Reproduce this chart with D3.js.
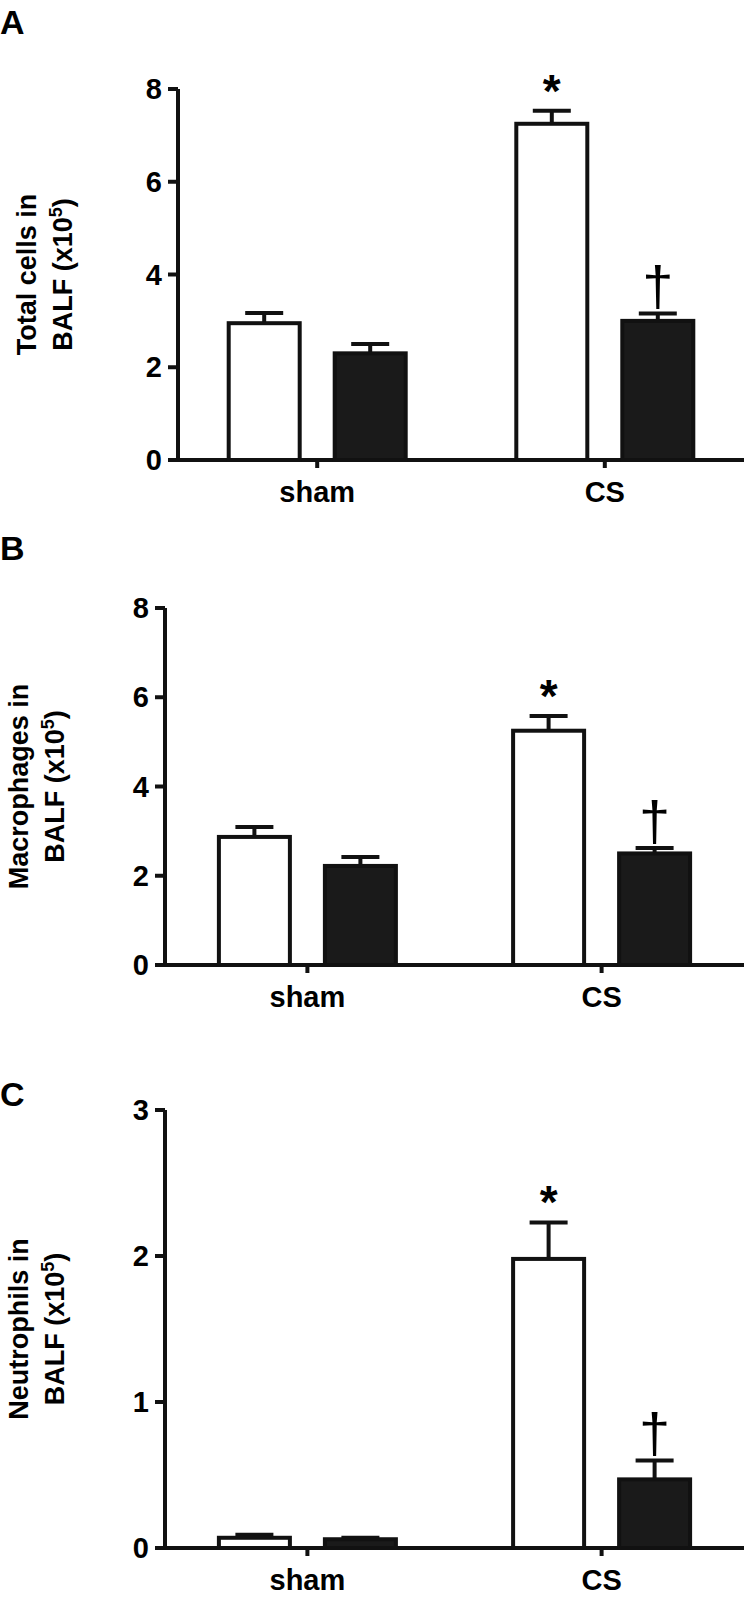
<!DOCTYPE html>
<html><head><meta charset="utf-8">
<script src="https://cdn.jsdelivr.net/npm/d3@7"></script>
<style>body{margin:0;background:#fff}text{font-family:Arial,"Liberation Sans",sans-serif;font-weight:bold}</style>
</head><body><div id="sandbox"></div>
<script>
// data
var groups = ['sham', 'CS'];
var totalMean = [2.95, 7.25], totalBlack = [2.3, 3.0];
var totalErrW = [0.22, 0.28], totalErrB = [0.2, 0.16];
var macMean = [2.87, 5.25], macBlack = [2.22, 2.5];
var macErrW = [0.22, 0.33], macErrB = [0.2, 0.12];
var neuMean = [0.07, 1.98], neuBlack = [0.06, 0.47];
var neuErrW = [0.02, 0.25], neuErrB = [0.01, 0.13];
var panels = [
  {letter: 'A', lines: ['Total cells in', 'BALF (x10'], ax: 178, y0: 460, top: 89, max: 8, ticks: [0, 2, 4, 6, 8], w: totalMean, b: totalBlack, ew: totalErrW, eb: totalErrB, ly: 8, tx: 52},
  {letter: 'B', lines: ['Macrophages in', 'BALF (x10'], ax: 165, y0: 965, top: 608, max: 8, ticks: [0, 2, 4, 6, 8], w: macMean, b: macBlack, ew: macErrW, eb: macErrB, ly: 534, tx: 44},
  {letter: 'C', lines: ['Neutrophils in', 'BALF (x10'], ax: 165, y0: 1548, top: 1110, max: 3, ticks: [0, 1, 2, 3], w: neuMean, b: neuBlack, ew: neuErrW, eb: neuErrB, ly: 1080, tx: 44}
];

var svg = d3.select('#sandbox').append('svg').attr('width', 750).attr('height', 1598);
var right = 744, bw = 75, gap = 31;

panels.forEach(function(p) {
  var g = svg.append('g');
  var y = d3.scaleLinear().domain([0, p.max]).range([p.y0, p.top]);
  var x = d3.scalePoint().domain(groups).range([p.ax, right]).padding(0.484);

  g.append('text').attr('x', 0).attr('y', p.ly + 26).style('font-size', '34px').text(p.letter);

  // y axis
  g.append('line').attr('x1', p.ax).attr('x2', p.ax).attr('y1', y(p.max)).attr('y2', p.y0)
    .attr('stroke', '#111').attr('stroke-width', 4);
  p.ticks.forEach(function(t) {
    g.append('line').attr('x1', p.ax - 10).attr('x2', p.ax).attr('y1', y(t)).attr('y2', y(t))
      .attr('stroke', '#111').attr('stroke-width', 4);
    g.append('text').attr('x', p.ax - 16).attr('y', y(t) + 10).attr('text-anchor', 'end')
      .style('font-size', '29px').text(t);
  });
  // x axis
  g.append('line').attr('x1', p.ax).attr('x2', right).attr('y1', p.y0).attr('y2', p.y0)
    .attr('stroke', '#111').attr('stroke-width', 4);
  groups.forEach(function(c) {
    g.append('line').attr('x1', x(c)).attr('x2', x(c)).attr('y1', p.y0).attr('y2', p.y0 + 8)
      .attr('stroke', '#111').attr('stroke-width', 4);
    g.append('text').attr('x', x(c)).attr('y', p.y0 + 42).attr('text-anchor', 'middle')
      .style('font-size', '29px').text(c);
  });

  // y title
  var mid = (p.y0 + y(p.max)) / 2;
  var t = g.append('text').attr('transform', 'translate(' + p.tx + ',' + mid + ') rotate(-90)')
    .attr('text-anchor', 'middle').style('font-size', '27px');
  t.append('tspan').attr('x', 0).attr('dy', -16).text(p.lines[0]);
  t.append('tspan').attr('x', 0).attr('dy', 36).text(p.lines[1]);
  t.append('tspan').attr('dy', -10).style('font-size', '18px').text('5');
  t.append('tspan').attr('dy', 10).text(')');

  function bars(vals, errs, off, fill) {
    groups.forEach(function(c, i) {
      var x0 = x(c) + off;
      g.append('line').attr('x1', x0 + bw / 2).attr('x2', x0 + bw / 2)
        .attr('y1', y(vals[i])).attr('y2', y(vals[i] + errs[i])).attr('stroke', '#111').attr('stroke-width', 4);
      g.append('line').attr('x1', x0 + bw / 2 - 19).attr('x2', x0 + bw / 2 + 19)
        .attr('y1', y(vals[i] + errs[i])).attr('y2', y(vals[i] + errs[i])).attr('stroke', '#111').attr('stroke-width', 4);
      g.append('rect').attr('x', x0 + 2).attr('y', y(vals[i])).attr('width', bw - 4)
        .attr('height', p.y0 - y(vals[i])).attr('fill', fill).attr('stroke', '#111').attr('stroke-width', 4);
    });
  }
  bars(p.w, p.ew, -bw - gap / 2, '#fff');
  bars(p.b, p.eb, gap / 2, '#1a1a1a');

  // markers
  g.append('text').attr('x', x('CS') - gap / 2 - bw / 2).attr('y', y(p.w[1] + p.ew[1]) - 4)
    .attr('text-anchor', 'middle').style('font-size', '46px').text('*');
  g.append('text').attr('x', x('CS') + gap / 2 + bw / 2).attr('y', y(p.b[1] + p.eb[1]) - 8)
    .attr('text-anchor', 'middle').style('font-size', '56px').style('font-weight', 'normal').text('†');
});
</script></body></html>
